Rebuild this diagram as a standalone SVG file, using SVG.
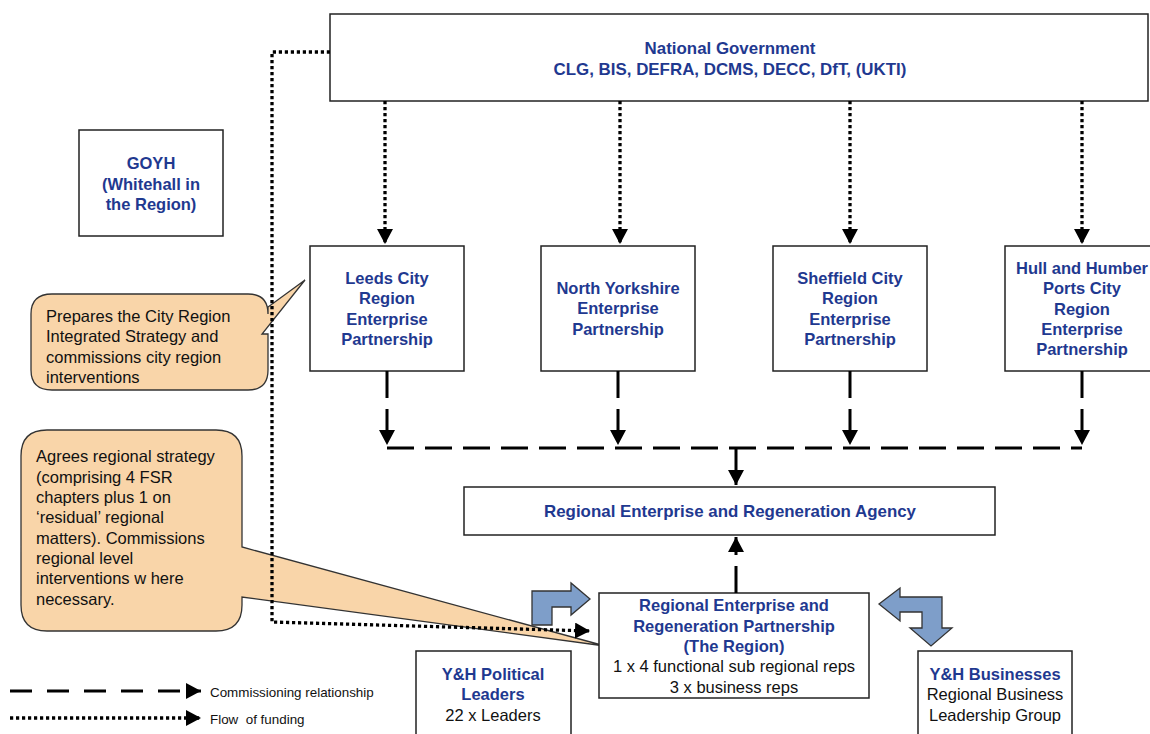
<svg xmlns="http://www.w3.org/2000/svg" width="1150" height="734" viewBox="0 0 1150 734">
<style>
.box{fill:#fff;stroke:#222;stroke-width:1.5}
.call{fill:#F9D5A9;stroke:#333;stroke-width:1.3}
.blue{fill:#7E9EC9;stroke:#333;stroke-width:1.3}
.t{font-family:"Liberation Sans",Arial,sans-serif;font-size:16.5px;text-anchor:middle}
.big{font-size:16.9px}
.b{font-weight:bold;fill:#1F3990}
.n{fill:#111}
.c{font-family:"Liberation Sans",Arial,sans-serif;font-size:16.5px;fill:#111}
.lg{font-family:"Liberation Sans",Arial,sans-serif;font-size:13.4px;fill:#111}
.dot{fill:none;stroke:#000;stroke-width:3.3;stroke-dasharray:3.2 2.8}
.dash{fill:none;stroke:#000;stroke-width:3;stroke-dasharray:27 11}
</style>
<defs>
<marker id="ah" markerUnits="userSpaceOnUse" markerWidth="18" markerHeight="18" refX="15" refY="8" orient="auto">
<path d="M0,0 L15,8 L0,16 Z" fill="#000"/>
</marker>
</defs>

<g id="callout-city">
<path class="call" d="M52,294 L248,294 Q268,294 268,314 L268,307 L305,280 L262,334 L268,334 L268,370 Q268,390 248,390 L52,390 Q31,390 31,370 L31,314 Q31,294 52,294 Z"/>
<text class="c" x="46" y="322">Prepares the City Region</text>
<text class="c" x="46" y="342">Integrated Strategy and</text>
<text class="c" x="46" y="363">commissions city region</text>
<text class="c" x="46" y="383">interventions</text>
</g>

<g id="callout-region">
<path class="call" d="M47,430 L216,430 Q242,430 242,456 L242,547 L605,646 L242,597 L242,605 Q242,631 216,631 L47,631 Q21,631 21,605 L21,456 Q21,430 47,430 Z"/>
<text class="c" x="36" y="462">Agrees regional strategy</text>
<text class="c" x="36" y="483">(comprising 4 FSR</text>
<text class="c" x="36" y="503">chapters plus 1 on</text>
<text class="c" x="36" y="523">‘residual’ regional</text>
<text class="c" x="36" y="544">matters). Commissions</text>
<text class="c" x="36" y="564">regional level</text>
<text class="c" x="36" y="584">interventions w here</text>
<text class="c" x="36" y="605">necessary.</text>
</g>

<g id="national-government">
<rect class="box" x="330" y="14" width="818" height="87"/>
<text class="t b big" x="730" y="54">National Government</text>
<text class="t b big" x="730" y="75">CLG, BIS, DEFRA, DCMS, DECC, DfT, (UKTI)</text>
</g>

<g id="goyh">
<rect class="box" x="79" y="130" width="144" height="106"/>
<text class="t b" x="151" y="169">GOYH</text>
<text class="t b" x="151" y="190">(Whitehall in</text>
<text class="t b" x="151" y="210">the Region)</text>
</g>

<g id="leeds">
<rect class="box" x="310" y="246" width="154" height="125"/>
<text class="t b" x="387" y="284">Leeds City</text>
<text class="t b" x="387" y="304">Region</text>
<text class="t b" x="387" y="325">Enterprise</text>
<text class="t b" x="387" y="345">Partnership</text>
</g>

<g id="north-yorkshire">
<rect class="box" x="541" y="246" width="154" height="125"/>
<text class="t b" x="618" y="294">North Yorkshire</text>
<text class="t b" x="618" y="314">Enterprise</text>
<text class="t b" x="618" y="335">Partnership</text>
</g>

<g id="sheffield">
<rect class="box" x="773" y="246" width="154" height="125"/>
<text class="t b" x="850" y="284">Sheffield City</text>
<text class="t b" x="850" y="304">Region</text>
<text class="t b" x="850" y="325">Enterprise</text>
<text class="t b" x="850" y="345">Partnership</text>
</g>

<g id="hull">
<rect class="box" x="1005" y="246" width="160" height="125"/>
<text class="t b" x="1082" y="274">Hull and Humber</text>
<text class="t b" x="1082" y="294">Ports City</text>
<text class="t b" x="1082" y="315">Region</text>
<text class="t b" x="1082" y="335">Enterprise</text>
<text class="t b" x="1082" y="355">Partnership</text>
</g>

<g id="agency">
<rect class="box" x="464" y="487" width="531" height="48"/>
<text class="t b big" x="730" y="517">Regional Enterprise and Regeneration Agency</text>
</g>

<g id="partnership">
<rect class="box" x="599" y="593" width="270" height="105"/>
<text class="t b" x="734" y="611">Regional Enterprise and</text>
<text class="t b" x="734" y="632">Regeneration Partnership</text>
<text class="t b" x="734" y="652">(The Region)</text>
<text class="t n" x="734" y="672">1 x 4 functional sub regional reps</text>
<text class="t n" x="734" y="693">3 x business reps</text>
</g>

<g id="political-leaders">
<rect class="box" x="416" y="651" width="155" height="95"/>
<text class="t b" x="493" y="680">Y&amp;H Political</text>
<text class="t b" x="493" y="700">Leaders</text>
<text class="t n" x="493" y="721">22 x Leaders</text>
</g>

<g id="businesses">
<rect class="box" x="918" y="651" width="154" height="95"/>
<text class="t b" x="995" y="680">Y&amp;H Businesses</text>
<text class="t n" x="995" y="700">Regional Business</text>
<text class="t n" x="995" y="721">Leadership Group</text>
</g>

<g id="connectors">
<path class="dot" d="M330,52 L272,52 L272,622 L590,631" marker-end="url(#ah)"/>
<path class="dot" d="M385,101 L385,244" marker-end="url(#ah)"/>
<path class="dot" d="M620,101 L620,244" marker-end="url(#ah)"/>
<path class="dot" d="M850,101 L850,244" marker-end="url(#ah)"/>
<path class="dot" d="M1082,101 L1082,244" marker-end="url(#ah)"/>
<path class="dash" d="M387,371 L387,445" marker-end="url(#ah)"/>
<path class="dash" d="M618,371 L618,445" marker-end="url(#ah)"/>
<path class="dash" d="M850,371 L850,445" marker-end="url(#ah)"/>
<path class="dash" d="M1082,371 L1082,445" marker-end="url(#ah)"/>
<path class="dash" d="M387,448 L1082,448"/>
<path class="dash" style="stroke-dasharray:none" d="M736,448 L736,485" marker-end="url(#ah)"/>
<path class="dash" d="M736,593 L736,537" marker-end="url(#ah)"/>
<path class="blue" d="M532,625 L532,591 L571,591 L571,583 L590,599 L571,615 L571,607 L552,607 L552,625 Z"/>
<path class="blue" d="M879,604 L900,588 L900,597 L942,597 L942,628 L952,628 L931,646 L910,628 L922,628 L922,612 L900,612 L900,621 Z"/>
</g>

<g id="legend">
<path class="dash" style="stroke-dasharray:22 15" d="M10,691 L201,691" marker-end="url(#ah)"/>
<text class="lg" x="210" y="697">Commissioning relationship</text>
<path class="dot" d="M10,718 L201,718" marker-end="url(#ah)"/>
<text class="lg" x="210" y="724" xml:space="preserve">Flow  of funding</text>
</g>
</svg>
